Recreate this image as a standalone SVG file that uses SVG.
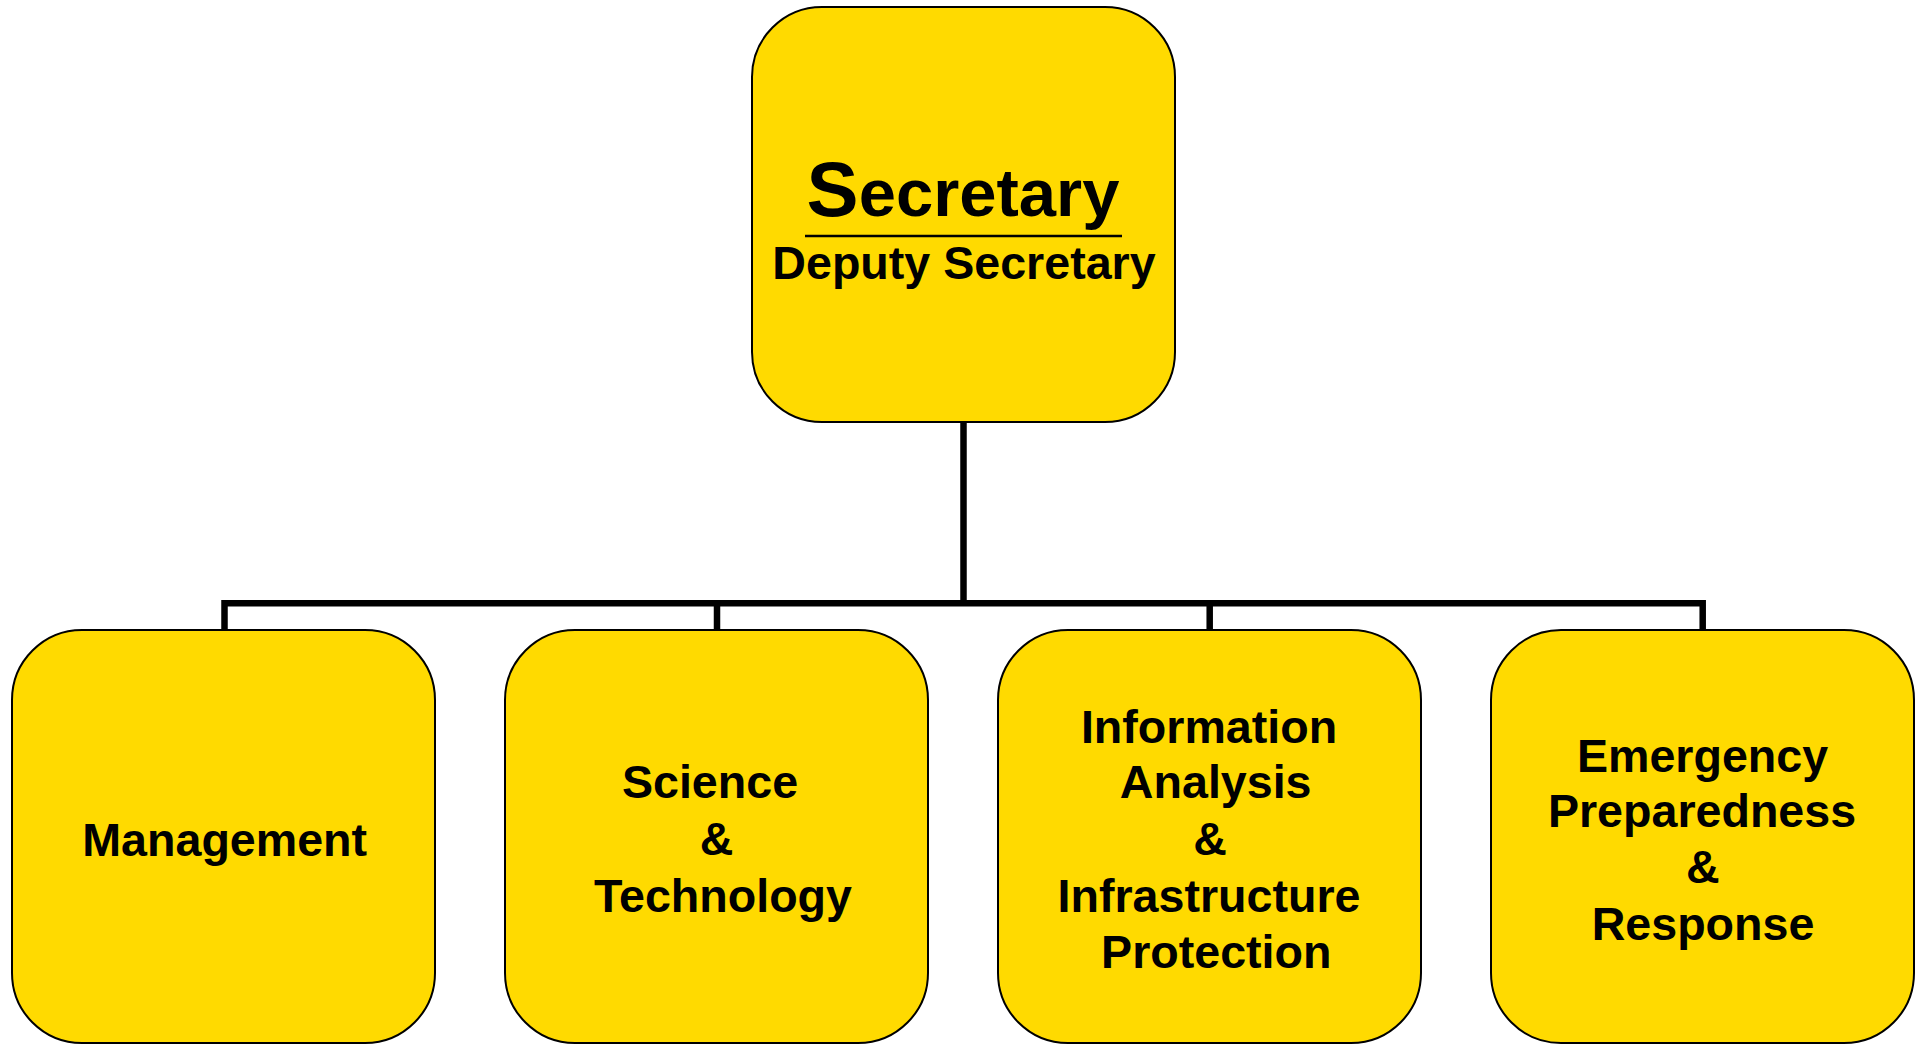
<svg xmlns="http://www.w3.org/2000/svg" width="1919" height="1045" viewBox="0 0 1919 1045">
<style>
.box{fill:#FFDA00;stroke:#000;stroke-width:2}
.t{font-family:"Liberation Sans",Arial,sans-serif;font-weight:bold;font-size:46.6px;fill:#000;text-anchor:middle}
.c{fill:none;stroke:#000;stroke-width:6.5;stroke-linejoin:miter}
</style>
<rect width="1919" height="1045" fill="#fff"/>
<g id="connectors">
<path class="c" d="M963.5 422 V603.3"/>
<path class="c" d="M224.5 630 V603.3 H1702.7 V630"/>
<path class="c" d="M717 603.3 V630"/>
<path class="c" d="M1209.7 603.3 V630"/>
</g>
<g id="secretary">
<rect class="box" x="752" y="7" width="423" height="415" rx="70" ry="70"/>
<text class="t" x="963" y="216"><tspan font-size="78">S</tspan><tspan font-size="67">ecretary</tspan></text>
<line x1="805" y1="236" x2="1122" y2="236" stroke="#000" stroke-width="2.5"/>
<text class="t" x="964" y="279">Deputy Secretary</text>
</g>
<g id="management">
<rect class="box" x="12" y="630" width="423" height="413" rx="70" ry="70"/>
<text class="t" x="224.7" y="856">Management</text>
</g>
<g id="science-technology">
<rect class="box" x="505" y="630" width="423" height="413" rx="70" ry="70"/>
<text class="t" x="710" y="798">Science</text>
<text class="t" x="716.7" y="855">&amp;</text>
<text class="t" x="723" y="911.7">Technology</text>
</g>
<g id="information-analysis">
<rect class="box" x="998" y="630" width="423" height="413" rx="70" ry="70"/>
<text class="t" x="1209" y="743.3">Information</text>
<text class="t" x="1215.7" y="798.3">Analysis</text>
<text class="t" x="1210" y="855">&amp;</text>
<text class="t" x="1209" y="911.7">Infrastructure</text>
<text class="t" x="1216.3" y="968.3">Protection</text>
</g>
<g id="emergency-preparedness">
<rect class="box" x="1491" y="630" width="423" height="413" rx="70" ry="70"/>
<text class="t" x="1702.5" y="771.7">Emergency</text>
<text class="t" x="1702" y="827.3">Preparedness</text>
<text class="t" x="1702.8" y="883.3">&amp;</text>
<text class="t" x="1703" y="940">Response</text>
</g>
</svg>
